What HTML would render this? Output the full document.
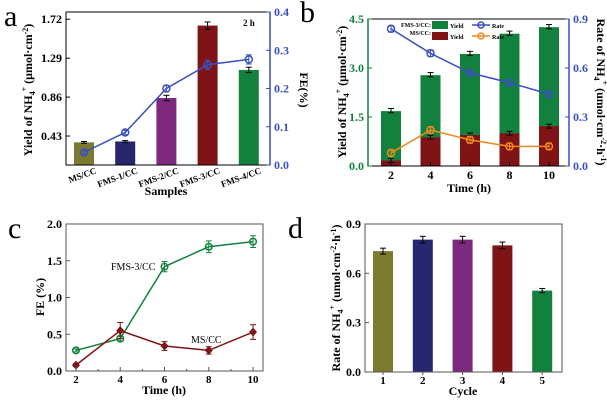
<!DOCTYPE html>
<html><head><meta charset="utf-8"><style>
body{margin:0;background:#fff;width:607px;height:400px;overflow:hidden}
svg{font-family:"Liberation Serif",serif;font-weight:bold}
</style></head><body>
<svg id="s" width="607" height="400"></svg>
<script>
// Panel a
const aCats=["MS/CC","FMS-1/CC","FMS-2/CC","FMS-3/CC","FMS-4/CC"];
const aYield=[0.36,0.37,0.85,1.65,1.16];
const aYieldErr=[0.01,0.01,0.03,0.04,0.03];
const aFE=[0.033,0.085,0.2,0.262,0.276];
const aFEErr=[0.004,0.006,0.008,0.012,0.012];
const aLeftTicks=["0.43","0.86","1.29","1.72"];
const aRightTicks=["0.0","0.1","0.2","0.3","0.4"];
// Panel b
const bTimes=[2,4,6,8,10];
const bYieldFMS=[1.68,2.78,3.43,4.05,4.25];
const bYieldMS=[0.17,0.88,0.95,1.0,1.22];
const bRateFMS=[0.84,0.69,0.57,0.51,0.44];
const bRateMS=[0.08,0.22,0.16,0.12,0.12];
const bLeftTicks=["0.0","1.5","3.0","4.5"];
const bRightTicks=["0.0","0.3","0.6","0.9"];
// Panel c
const cTimes=[2,4,6,8,10];
const cFMS=[0.28,0.44,1.42,1.69,1.76];
const cFMSErr=[0.02,0.03,0.07,0.08,0.08];
const cMS=[0.08,0.55,0.34,0.28,0.53];
const cMSErr=[0.02,0.11,0.06,0.05,0.1];
const cYTicks=["0.0","0.5","1.0","1.5","2.0"];
// Panel d
const dCycles=["1","2","3","4","5"];
const dRate=[0.735,0.805,0.805,0.77,0.495];
const dErr=[0.018,0.02,0.02,0.02,0.013];
const dYTicks=["0.0","0.3","0.6","0.9"];

const NS="http://www.w3.org/2000/svg";
const S=document.getElementById('s');
function el(tag,attrs,parent,txt){const e=document.createElementNS(NS,tag);for(const k in attrs)e.setAttribute(k,attrs[k]);if(txt!==undefined)e.textContent=txt;(parent||S).appendChild(e);return e;}
function lin(d0,d1,r0,r1){return v=>r0+(v-d0)/(d1-d0)*(r1-r0);}
const barCols=["#7b7a2e","#25266e","#7d2a7e","#7f1416","#13813e"];
const BLUE="#3b4fbf",GREEN="#13813e",RED="#7f1416",ORANGE="#f08a1f";
function errBar(g,x,y1,y2,c){el('line',{x1:x,x2:x,y1:y1,y2:y2,stroke:c,'stroke-width':1},g);el('line',{x1:x-3,x2:x+3,y1:y1,y2:y1,stroke:c,'stroke-width':1},g);el('line',{x1:x-3,x2:x+3,y1:y2,y2:y2,stroke:c,'stroke-width':1},g);}
function letter(t,x,y){const e=el('text',{x:x,y:y,'font-size':30,'font-weight':'normal'},S,t);}

// ===== Panel a =====
{
const g=el('g',{});
const L=66,R=270,T=12,B=165;
const y=lin(0.11,1.80,B,T),y2=lin(0,0.4,B,T);
const xs=i=>84+i*41.2;
aCats.forEach((c,i)=>{const yy=y(aYield[i]);const r=el('rect',{x:xs(i)-10,y:yy,width:20,height:B-yy,fill:barCols[i]},g);
errBar(g,xs(i),y(aYield[i]+aYieldErr[i]),y(aYield[i]-aYieldErr[i]),'#000');});
el('polyline',{points:aFE.map((v,i)=>xs(i)+','+y2(v)).join(' '),fill:'none',stroke:BLUE,'stroke-width':1.5},g);
aFE.forEach((v,i)=>{errBar(g,xs(i),y2(v+aFEErr[i]),y2(v-aFEErr[i]),BLUE);const c=el('circle',{cx:xs(i),cy:y2(v),r:3.5,fill:'none',stroke:BLUE,'stroke-width':1.5},g);});
el('rect',{x:L,y:T,width:R-L,height:B-T,fill:'none',stroke:'#000','stroke-width':1},g);
el('line',{x1:R,x2:R,y1:T,y2:B,stroke:BLUE,'stroke-width':1.5},g);
aLeftTicks.forEach(t=>{const yy=y(+t);el('line',{x1:L,x2:L+4,y1:yy,y2:yy,stroke:'#000'},g);el('text',{x:L-4,y:yy+4,'font-size':12,'text-anchor':'end'},g,t);});
aRightTicks.forEach(t=>{const yy=y2(+t);el('line',{x1:R,x2:R-4,y1:yy,y2:yy,stroke:BLUE},g);el('text',{x:R+4,y:yy+4,'font-size':12,fill:BLUE},g,t);});
aCats.forEach((c,i)=>{el('text',{transform:`translate(${xs(i)+13},${B+8}) rotate(-20)`,'font-size':9,'text-anchor':'end'},g,c);});
el('text',{x:166,y:195,'font-size':12,'text-anchor':'middle'},g,'Samples');
const yl=el('text',{transform:'translate(32,90) rotate(-90)','font-size':12,'text-anchor':'middle'},g);yl.innerHTML='Yield of NH<tspan font-size="8" dy="3">4</tspan><tspan font-size="8" dy="-8">+</tspan><tspan dy="5"> (μmol·cm</tspan><tspan font-size="8" dy="-4">-2</tspan><tspan dy="4">)</tspan>';
el('text',{transform:'translate(300,90) rotate(90)','font-size':12,'text-anchor':'middle'},g,'FE(%)');
el('text',{x:243,y:26,'font-size':9},g,'2 h');
}
letter('a',4,26);

// ===== Panel b =====
{
const g=el('g',{});
const L=368,R=569,T=19,B=166;
const y=lin(0,4.5,B,T),y2=lin(0,0.9,B,T);
const xs=i=>391+i*39.5;
bTimes.forEach((t,i)=>{
 const yy=y(bYieldFMS[i]);const r=el('rect',{x:xs(i)-10,y:yy,width:20,height:B-yy,fill:GREEN},g);
 errBar(g,xs(i),y(bYieldFMS[i]+0.08),y(bYieldFMS[i]-0.05),'#000');
 const y3=y(bYieldMS[i]);const r2=el('rect',{x:xs(i)-10,y:y3,width:20,height:B-y3,fill:RED},g);
 errBar(g,xs(i),y(bYieldMS[i]+0.06),y(bYieldMS[i]-0.06),'#000');
});
[[bRateFMS,BLUE],[bRateMS,ORANGE]].forEach(([arr,c])=>{
 el('polyline',{points:arr.map((v,i)=>xs(i)+','+y2(v)).join(' '),fill:'none',stroke:c,'stroke-width':1.5},g);
 arr.forEach((v,i)=>{errBar(g,xs(i),y2(v+0.02),y2(v-0.02),c);const p=el('circle',{cx:xs(i),cy:y2(v),r:3.5,fill:'none',stroke:c,'stroke-width':1.5},g);});
});
el('rect',{x:L,y:T,width:R-L,height:B-T,fill:'none',stroke:'#000'},g);
el('line',{x1:L,x2:L,y1:T,y2:B,stroke:GREEN,'stroke-width':1.5},g);
el('line',{x1:R,x2:R,y1:T,y2:B,stroke:BLUE,'stroke-width':1.5},g);
bLeftTicks.forEach(t=>{const yy=y(+t);el('line',{x1:L,x2:L+4,y1:yy,y2:yy,stroke:GREEN},g);el('text',{x:L-4,y:yy+4,'font-size':12,'text-anchor':'end',fill:GREEN},g,t);});
bRightTicks.forEach(t=>{const yy=y2(+t);el('line',{x1:R,x2:R-4,y1:yy,y2:yy,stroke:BLUE},g);el('text',{x:R+4,y:yy+4,'font-size':12,fill:BLUE},g,t);});
bTimes.forEach((t,i)=>{el('line',{x1:xs(i),x2:xs(i),y1:B,y2:B-4,stroke:'#000'},g);el('text',{x:xs(i),y:B+13,'font-size':12,'text-anchor':'middle'},g,t);});
el('text',{x:469,y:192,'font-size':12,'text-anchor':'middle'},g,'Time (h)');
const yl=el('text',{transform:'translate(346,92) rotate(-90)','font-size':12,'text-anchor':'middle'},g);yl.innerHTML='Yield of NH<tspan font-size="8" dy="3">4</tspan><tspan font-size="8" dy="-8">+</tspan><tspan dy="5"> (μmol·cm</tspan><tspan font-size="8" dy="-4">-2</tspan><tspan dy="4">)</tspan>';
const yr=el('text',{transform:'translate(597,92) rotate(90)','font-size':12,'text-anchor':'middle'},g);yr.innerHTML='Rate of NH<tspan font-size="8" dy="3">4</tspan><tspan font-size="8" dy="-8">+</tspan><tspan dy="5"> (umol·cm</tspan><tspan font-size="8" dy="-4">-2</tspan><tspan dy="4">·h</tspan><tspan font-size="8" dy="-4">-1</tspan><tspan dy="4">)</tspan>';
// legend
const lg=el('g',{},g);
el('text',{x:431,y:27,'font-size':6,'text-anchor':'end'},lg,'FMS-3/CC:');
el('rect',{x:432,y:21,width:16,height:8,fill:GREEN},lg);el('text',{x:450,y:28,'font-size':6},lg,'Yield');
el('line',{x1:472,x2:490,y1:25,y2:25,stroke:BLUE,'stroke-width':1.5},lg);el('circle',{cx:481,cy:25,r:3,fill:'none',stroke:BLUE,'stroke-width':1.5},lg);el('text',{x:492,y:28,'font-size':6},lg,'Rate');
el('text',{x:431,y:35,'font-size':6,'text-anchor':'end'},lg,'MS/CC:');
el('rect',{x:432,y:32,width:16,height:8,fill:RED},lg);el('text',{x:450,y:39,'font-size':6},lg,'Yield');
el('line',{x1:472,x2:490,y1:36,y2:36,stroke:ORANGE,'stroke-width':1.5},lg);el('circle',{cx:481,cy:36,r:3,fill:'none',stroke:ORANGE,'stroke-width':1.5},lg);el('text',{x:492,y:39,'font-size':6},lg,'Rate');
}
letter('b',300,22);

// ===== Panel c =====
{
const g=el('g',{});
const L=66,R=263,T=224,B=371;
const x=lin(1.55,10.45,L,R),y=lin(0,2,B,T);
[[cFMS,cFMSErr,GREEN,'circle'],[cMS,cMSErr,RED,'diamond']].forEach(([arr,er,c,shape])=>{
 el('polyline',{points:arr.map((v,i)=>x(cTimes[i])+','+y(v)).join(' '),fill:'none',stroke:c,'stroke-width':1.5},g);
 arr.forEach((v,i)=>{const px=x(cTimes[i]),py=y(v);errBar(g,px,y(v+er[i]),y(v-er[i]),c);
  let m;if(shape==='circle')m=el('circle',{cx:px,cy:py,r:3.3,fill:'none',stroke:c,'stroke-width':1.5},g);
  else m=el('polygon',{points:`${px},${py-4.5} ${px+4},${py} ${px},${py+4.5} ${px-4},${py}`,fill:c},g);
  });
});
el('rect',{x:L,y:T,width:R-L,height:B-T,fill:'none',stroke:'#555'},g);
cYTicks.forEach(t=>{const yy=y(+t);el('line',{x1:L,x2:L+4,y1:yy,y2:yy,stroke:'#555'},g);el('text',{x:L-4,y:yy+4,'font-size':12,'text-anchor':'end'},g,t);});
[3,5,7,9].forEach(t=>el('line',{x1:x(t),x2:x(t),y1:B,y2:B-2,stroke:'#555'},g));
cTimes.forEach(t=>{el('line',{x1:x(t),x2:x(t),y1:B,y2:B-4,stroke:'#555'},g);el('text',{x:x(t),y:B+12,'font-size':11,'text-anchor':'middle'},g,t);});
el('text',{x:164,y:394,'font-size':12,'text-anchor':'middle'},g,'Time (h)');
el('text',{transform:'translate(44,297) rotate(-90)','font-size':12,'text-anchor':'middle'},g,'FE (%)');
el('text',{x:111,y:270,'font-size':10,'font-weight':'normal'},g,'FMS-3/CC');
el('text',{x:191,y:343,'font-size':10,'font-weight':'normal'},g,'MS/CC');
}
letter('c',8,238);

// ===== Panel d =====
{
const g=el('g',{});
const L=365,R=562,T=224,B=372;
const y=lin(0,0.9,B,T);const xs=i=>383+i*39.8;
dCycles.forEach((c,i)=>{const yy=y(dRate[i]);const r=el('rect',{x:xs(i)-10,y:yy,width:20,height:B-yy,fill:barCols[i]},g);
 errBar(g,xs(i),y(dRate[i]+dErr[i]),y(dRate[i]-dErr[i]),'#000');
 el('line',{x1:xs(i),x2:xs(i),y1:B,y2:B+3,stroke:'#555'},g);
 el('text',{x:xs(i),y:B+12,'font-size':11,'text-anchor':'middle'},g,c);});
el('rect',{x:L,y:T,width:R-L,height:B-T,fill:'none',stroke:'#555'},g);
dYTicks.forEach(t=>{const yy=y(+t);el('line',{x1:L,x2:L+4,y1:yy,y2:yy,stroke:'#555'},g);el('text',{x:L-4,y:yy+4,'font-size':12,'text-anchor':'end'},g,t);});
el('text',{x:463,y:395,'font-size':12,'text-anchor':'middle'},g,'Cycle');
const yl=el('text',{transform:'translate(340,298) rotate(-90)','font-size':12,'text-anchor':'middle'},g);yl.innerHTML='Rate of NH<tspan font-size="8" dy="3">4</tspan><tspan font-size="8" dy="-8">+</tspan><tspan dy="5"> (umol·cm</tspan><tspan font-size="8" dy="-4">-2</tspan><tspan dy="4">·h</tspan><tspan font-size="8" dy="-4">-1</tspan><tspan dy="4">)</tspan>';
}
letter('d',288,238);
</script>
</body></html>
